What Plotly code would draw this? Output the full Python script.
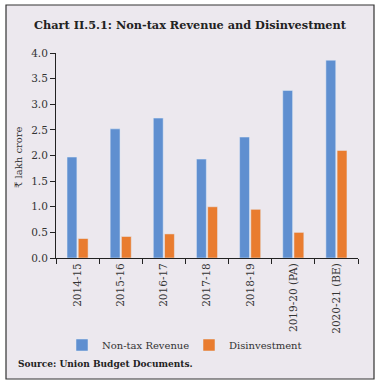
import plotly.graph_objects as go

categories = ["2014-15", "2015-16", "2016-17", "2017-18", "2018-19", "2019-20 (PA)", "2020-21 (BE)"]
non_tax_revenue = [1.97, 2.52, 2.73, 1.93, 2.36, 3.27, 3.86]
disinvestment = [0.38, 0.42, 0.47, 1.00, 0.95, 0.50, 2.10]
y_ticks = [0.0, 0.5, 1.0, 1.5, 2.0, 2.5, 3.0, 3.5, 4.0]

W, H = 381, 387
L, R, T, B = 56, 23, 53, 129
pw, ph = W - L - R, H - T - B

def px(x):
    return (x - L) / pw

def py(y):
    return (H - B - y) / ph

FONT = "DejaVu Serif"
BG = "#ECE8EE"

fig = go.Figure()
fig.add_trace(go.Bar(x=categories, y=non_tax_revenue, name="Non-tax Revenue", marker_color="#5F8FD0"))
fig.add_trace(go.Bar(x=categories, y=disinvestment, name="Disinvestment", marker_color="#E97C2F"))

fig.update_layout(
    width=W, height=H,
    margin=dict(l=L, r=R, t=T, b=B, pad=0),
    paper_bgcolor="white",
    plot_bgcolor="rgba(0,0,0,0)",
    barmode="group", bargap=0.48, bargroupgap=0.12,
    font=dict(family=FONT, size=10.5, color="#222222"),
    showlegend=True,
    legend=dict(orientation="h", x=px(62), xanchor="left", y=py(345), yanchor="middle",
                bgcolor="rgba(0,0,0,0)", font=dict(family=FONT, size=10, color="#333333"),
                itemwidth=30, entrywidth=82, entrywidthmode="pixels", tracegroupgap=0),
    xaxis=dict(showline=True, linecolor="#222222", linewidth=1, ticks="outside", ticklen=5,
               tickcolor="#222222", tickson="boundaries", tickangle=-90, showgrid=False,
               tickfont=dict(family=FONT, size=10.5, color="#333333")),
    yaxis=dict(range=[0, 4], tickvals=y_ticks, tickformat=".1f", showline=True, linecolor="#222222",
               linewidth=1, ticks="outside", ticklen=5, tickcolor="#222222", showgrid=False,
               zeroline=False, tickfont=dict(family=FONT, size=10.5, color="#333333")),
    shapes=[dict(type="rect", xref="paper", yref="paper", x0=px(6), x1=px(374), y0=py(379), y1=py(5),
                 fillcolor=BG, line=dict(color="#333333", width=1.2), layer="below")],
    annotations=[
        dict(text="<b>Chart II.5.1: Non-tax Revenue and Disinvestment</b>", xref="paper", yref="paper",
             x=px(190), y=py(25), xanchor="center", yanchor="middle", showarrow=False,
             font=dict(family=FONT, size=11.3, color="#222222")),
        dict(text="₹ lakh crore", xref="paper", yref="paper", x=px(18), y=py(157), textangle=-90,
             xanchor="center", yanchor="middle", showarrow=False,
             font=dict(family=FONT, size=10, color="#333333")),
        dict(text="<b>Source: Union Budget Documents.</b>", xref="paper", yref="paper",
             x=px(16), y=py(364), xanchor="left", yanchor="middle", showarrow=False,
             font=dict(family=FONT, size=9, color="#222222")),
    ],
)

fig.write_html("out.html", config={"displayModeBar": False},
               post_script="document.body.style.margin='0';")
